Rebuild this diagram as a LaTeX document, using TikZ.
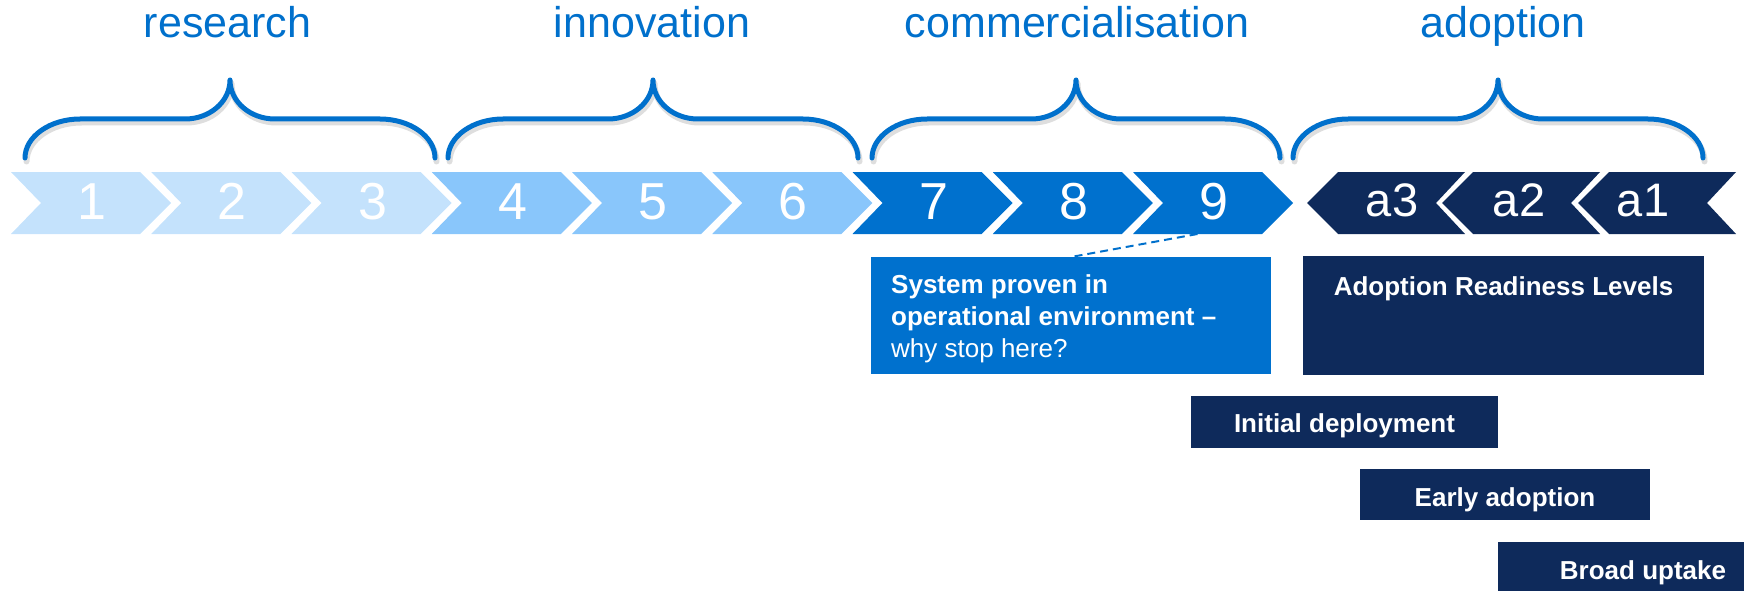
\documentclass[tikz,border=0pt]{standalone}
\usepackage{fontspec}
\setmainfont{Liberation Sans}
\definecolor{lightA}{HTML}{C4E2FC}
\definecolor{midA}{HTML}{89C6FB}
\definecolor{blueA}{HTML}{0071CE}
\definecolor{navyA}{HTML}{0E2A5B}
\definecolor{titleblue}{HTML}{0070CC}
\newcommand\mybracepath[2]{%
  (#1,158) .. controls (#1,136.5) and (#1+25,119) .. (#1+55,119)
  -- ({(#1+#2)/2-45},119) .. controls ({(#1+#2)/2-20},119) and ({(#1+#2)/2},101.5) .. ({(#1+#2)/2},80)
  .. controls ({(#1+#2)/2},101.5) and ({(#1+#2)/2+20},119) .. ({(#1+#2)/2+45},119)
  -- (#2-55,119) .. controls (#2-25,119) and (#2,136.5) .. (#2,158)}
\begin{document}
\begin{tikzpicture}[x=1pt,y=-1pt,
  ttl/.style={font=\fontsize{43}{50}\selectfont, text=titleblue, anchor=base, inner sep=0pt},
  num/.style={font=\fontsize{52}{60}\selectfont, text=white, anchor=base, inner sep=0pt},
  anum/.style={font=\fontsize{47}{54}\selectfont, text=white, anchor=base, inner sep=0pt},
  brace/.style={draw=titleblue, line width=5pt, line cap=round, line join=round},
  braceshadow/.style={draw=black, opacity=0.13, line width=6pt, line cap=round, line join=round},
  boxtxt/.style={font=\bfseries\fontsize{26}{32}\selectfont, text=white, inner sep=0pt},
  boxreg/.style={font=\fontsize{26}{32}\selectfont, text=white, inner sep=0pt},
  panel/.style={inner sep=0pt, outer sep=0pt, anchor=north west},
  link/.style={draw=titleblue, line width=2pt, dash pattern=on 8pt off 5pt},
]
\useasboundingbox (0,0) rectangle (1744,591);
\clip (0,0) rectangle (1744,591);

% titles
\node[ttl] (tres) at (227.5,38) {research};
\node[ttl] (tinn) at (652,38) {innovation};
\node[ttl] (tcom) at (1077,38) {commercialisation};
\node[ttl] (tado) at (1503,38) {adoption};

% braces
\foreach \a/\b in {25/435, 448/858, 872/1280, 1293/1703} {
  \draw[braceshadow, shift={(1.5,3.5)}] \mybracepath{\a}{\b};
  \draw[brace] \mybracepath{\a}{\b};
}

% TRL chevrons
\foreach \i/\c in {1/lightA,2/lightA,3/lightA,4/midA,5/midA,6/midA,7/blueA,8/blueA,9/blueA} {
  \pgfmathsetmacro\L{11+(\i-1)*140.25}
  \fill[\c] (\L,172) -- ++(129,0) -- ++(31,31) -- ++(-31,31) -- ++(-129,0) -- ++(30,-31) -- cycle;
  \node[num] (n\i) at (\L+81,219) {\i};
}

% adoption chevrons
\foreach \P/\t/\tx in {1307/a3/1392, 1442/a2/1519, 1578/a1/1643} {
  \fill[navyA] (\P,203) -- ++(31,-31) -- ++(127,0) -- ++(-29,31) -- ++(29,31) -- ++(-127,0) -- cycle;
  \node[anum] (n\t) at (\tx,216) {\t};
}

% system proven box
\node[panel, fill=blueA, minimum width=400pt, minimum height=117pt] (sys) at (871,257) {};
\node[boxtxt, anchor=base west] (sysa) at (891,293) {System proven in};
\node[boxtxt, anchor=base west] (sysb) at (891,325) {operational environment --};
\node[boxreg, anchor=base west] (sysc) at (891,357) {why stop here?};
\coordinate (c9b) at (1197.5,234);
\draw[link] (c9b) -- (sys.north);

% adoption readiness boxes
\node[panel, fill=navyA, minimum width=401pt, minimum height=119pt] (arl) at (1303,256) {};
\node[boxtxt, anchor=base] (arlt) at (1503.5,295) {Adoption Readiness Levels};

\node[panel, fill=navyA, minimum width=307pt, minimum height=52pt] (ini) at (1191,396) {};
\node[boxtxt, anchor=base] (init) at (1344.5,432) {Initial deployment};

\node[panel, fill=navyA, minimum width=290pt, minimum height=51pt] (ear) at (1360,469) {};
\node[boxtxt, anchor=base] (eart) at (1505,506) {Early adoption};

\node[panel, fill=navyA, minimum width=290pt, minimum height=52pt] (bro) at (1498,542) {};
\node[boxtxt, anchor=base] (brot) at (1643,579) {Broad uptake};
\end{tikzpicture}
\end{document}
